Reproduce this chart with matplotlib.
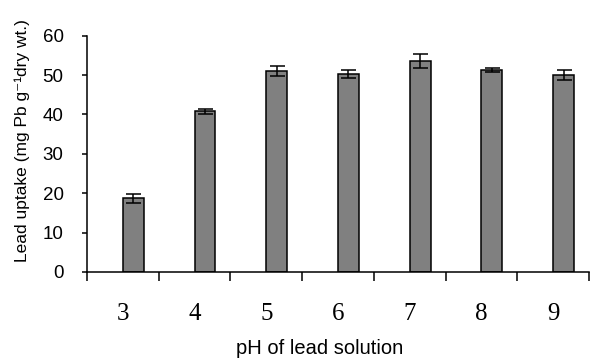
import matplotlib
matplotlib.use("Agg")
import matplotlib.pyplot as plt
import numpy as np

ph_labels = ["3", "4", "5", "6", "7", "8", "9"]
uptake = [18.7, 40.8, 51.0, 50.3, 53.6, 51.2, 50.0]
errors = [1.1, 0.7, 1.3, 1.0, 1.8, 0.5, 1.3]

fig = plt.figure(figsize=(5.93, 3.59), dpi=100)
ax = fig.add_axes([87/593, 1-272/359, 502/593, (272-35.7)/359])

n = len(ph_labels)
pos = np.arange(n) + 0.645
ax.bar(pos, uptake, width=0.29, color="#808080", edgecolor="black", linewidth=1.1, zorder=2)
ax.errorbar(pos, uptake, yerr=errors, fmt="none", ecolor="black", elinewidth=1.1,
            capsize=5.4, capthick=1.1, zorder=3)

ax.set_xlim(0, n)
ax.set_ylim(0, 60)
ax.set_yticks(np.arange(0, 61, 10))
ax.set_xticks(np.arange(0, n + 1))
ax.set_xticklabels([])
ax.set_xticks(np.arange(n) + 0.5, minor=True)
ax.set_xticklabels(ph_labels, minor=True, fontfamily="Liberation Serif", fontsize=18)
ax.tick_params(axis="x", which="major", direction="out", length=6.5, width=1.1)
ax.tick_params(axis="x", which="minor", length=0, pad=22)
ax.tick_params(axis="y", direction="out", length=3.8, width=1.1, pad=13, labelsize=13.5)
for lbl in ax.get_yticklabels():
    lbl.set_fontfamily("Liberation Sans")

for s in ["top", "right"]:
    ax.spines[s].set_visible(False)
for s in ["left", "bottom"]:
    ax.spines[s].set_linewidth(1.1)

ax.set_ylabel("Lead uptake (mg Pb g⁻¹dry wt.)", fontsize=12.5,
              family=["Liberation Sans", "DejaVu Sans"], va="center")
ax.yaxis.set_label_coords(-0.129, 0.556)
ax.set_xlabel("pH of lead solution", fontsize=14.5, family="Liberation Sans", va="center")
ax.xaxis.set_label_coords(0.464, -0.322)

fig.savefig("out.png", dpi=100)
